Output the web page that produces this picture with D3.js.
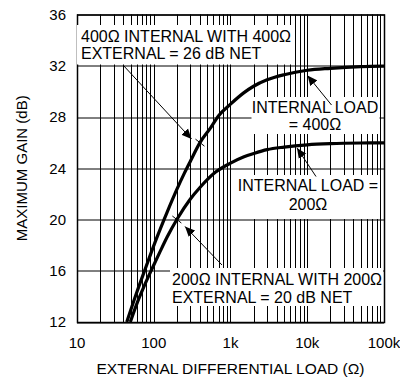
<!DOCTYPE html>
<html>
<head>
<meta charset="utf-8">
<script src="https://cdn.jsdelivr.net/npm/d3@7"></script>
<style>
  body { margin: 0; background: #fff; }
  text { font-family: "Liberation Sans", Arial, Helvetica, sans-serif; fill: #000; }
</style>
</head>
<body>
<div id="chart"></div>
<script>

// data (load in ohms, gain in dB)
var load400 = [44.5, 60, 77, 110, 150, 200, 250, 300, 400, 550, 700, 1000, 1500, 2000, 3000, 5000, 10000, 20000, 50000, 100000];
var gain400 = [12, 14.3, 16.1, 18.6, 20.6, 22.35, 23.6, 24.55, 26, 27.15, 28.1, 29, 29.9, 30.4, 30.9, 31.3, 31.65, 31.8, 31.93, 31.97];

var load200 = [49.5, 60, 75, 94, 120, 150, 200, 300, 400, 640, 1000, 1500, 2000, 3000, 5000, 10000, 20000, 50000, 100000];
var gain200 = [12, 13.4, 14.8, 16.1, 17.45, 18.65, 20, 21.6, 22.5, 23.7, 24.4, 24.9, 25.15, 25.45, 25.65, 25.83, 25.92, 25.97, 25.98];

var yTicks = [12, 16, 20, 24, 28, 32, 36];
var xTicks = [10, 100, 1000, 10000, 100000];
var xTickLabels = ["10", "100", "1k", "10k", "100k"];

// marked points on the curves (the "net" gains)
var markLoads = [400, 200];
var markGains = [26, 20];

var width = 400,
  height = 377,
  margin = {top: 14.5, right: 16, bottom: 55, left: 77},
  innerWidth = width - margin.left - margin.right,
  innerHeight = height - margin.top - margin.bottom;

var xScale = d3.scaleLog().domain([10, 100000]).range([0, innerWidth]);
var yScale = d3.scaleLinear().domain([12, 36]).range([innerHeight, 0]);

var svg = d3.select("#chart").append("svg")
  .attr("width", width)
  .attr("height", height);

svg.append("defs").append("marker")
  .attr("id", "arrow")
  .attr("viewBox", "0 0 10 10")
  .attr("refX", 10)
  .attr("refY", 5)
  .attr("markerWidth", 10)
  .attr("markerHeight", 10)
  .attr("markerUnits", "userSpaceOnUse")
  .attr("orient", "auto")
  .append("path")
  .attr("d", "M0,0.5 L10,5 L0,9.5 Z")
  .attr("fill", "#000");

var g = svg.append("g")
  .attr("transform", "translate(" + margin.left + "," + margin.top + ")");

// grid: every 1..9 x decade
var gridX = [];
for (var p = 1; p <= 4; p++) {
  for (var m = 1; m <= 9; m++) gridX.push(m * Math.pow(10, p));
}
gridX.push(100000);

g.append("g").selectAll("line")
  .data(gridX)
  .enter().append("line")
  .attr("x1", function(d) { return Math.round(xScale(d)) + 0.5; })
  .attr("x2", function(d) { return Math.round(xScale(d)) + 0.5; })
  .attr("y1", 0)
  .attr("y2", innerHeight)
  .attr("stroke", "#000")
  .attr("stroke-width", 1);

g.append("g").selectAll("line")
  .data(yTicks)
  .enter().append("line")
  .attr("x1", 0)
  .attr("x2", innerWidth)
  .attr("y1", function(d) { return Math.round(yScale(d)) + 0.5; })
  .attr("y2", function(d) { return Math.round(yScale(d)) + 0.5; })
  .attr("stroke", "#000")
  .attr("stroke-width", 1);

g.append("rect")
  .attr("x", 0.5)
  .attr("y", 0.5)
  .attr("width", innerWidth)
  .attr("height", innerHeight)
  .attr("fill", "none")
  .attr("stroke", "#000")
  .attr("stroke-width", 1.5);

// annotation boxes (white, hide the grid)
var labels = [
  {box: [0, 10.5, 217, 39.5], lines: ["400Ω INTERNAL WITH 400Ω", "EXTERNAL = 26 dB NET"],
    x: 4, y: [27.5, 44], anchor: "start"},
  {box: [174.5, 82.5, 128, 37], lines: ["INTERNAL LOAD", "= 400Ω"],
    x: 238, y: [98, 115.5], anchor: "middle"},
  {box: [158, 160.5, 145, 44], lines: ["INTERNAL LOAD =", "200Ω"],
    x: 231, y: [176, 195.5], anchor: "middle"},
  {box: [93, 253.5, 213, 38], lines: ["200Ω INTERNAL WITH 200Ω", "EXTERNAL = 20 dB NET"],
    x: 95, y: [270.5, 288.5], anchor: "start"}
];

g.append("g").selectAll("rect")
  .data(labels)
  .enter().append("rect")
  .attr("x", function(d) { return d.box[0]; })
  .attr("y", function(d) { return d.box[1]; })
  .attr("width", function(d) { return d.box[2]; })
  .attr("height", function(d) { return d.box[3]; })
  .attr("fill", "#fff");

// curves
var line = d3.line()
  .x(function(d) { return xScale(d[0]); })
  .y(function(d) { return yScale(d[1]); })
  .curve(d3.curveMonotoneX);

var series = [d3.zip(load400, gain400), d3.zip(load200, gain200)];

g.append("g").selectAll("path")
  .data(series)
  .enter().append("path")
  .attr("d", line)
  .attr("fill", "none")
  .attr("stroke", "#000")
  .attr("stroke-width", 3.2)
  .attr("stroke-linejoin", "round");

// short tick marks across the curves
g.append("g").selectAll("line")
  .data(d3.zip(markLoads, markGains))
  .enter().append("line")
  .attr("x1", function(d) { return xScale(d[0]) - 4.5; })
  .attr("y1", function(d) { return yScale(d[1]) - 3.5; })
  .attr("x2", function(d) { return xScale(d[0]) + 4.5; })
  .attr("y2", function(d) { return yScale(d[1]) + 3.5; })
  .attr("stroke", "#000")
  .attr("stroke-width", 1);

// arrows (from label to curve)
var arrows = [
  [46, 50.5, 114.5, 124.5],
  [145, 250.5, 108, 212],
  [254.5, 90.5, 230.5, 61],
  [239, 162, 220, 133.5]
];

g.append("g").selectAll("line")
  .data(arrows)
  .enter().append("line")
  .attr("x1", function(d) { return d[0]; })
  .attr("y1", function(d) { return d[1]; })
  .attr("x2", function(d) { return d[2]; })
  .attr("y2", function(d) { return d[3]; })
  .attr("stroke", "#000")
  .attr("stroke-width", 1)
  .attr("marker-end", "url(#arrow)");

// label text
labels.forEach(function(l) {
  l.lines.forEach(function(t, i) {
    g.append("text")
      .attr("x", l.x)
      .attr("y", l.y[i])
      .attr("text-anchor", l.anchor)
      .attr("font-size", "16px")
      .text(t);
  });
});

// axes labels
g.append("g").selectAll("text")
  .data(yTicks)
  .enter().append("text")
  .attr("x", -11)
  .attr("y", function(d) { return yScale(d); })
  .attr("dy", "0.36em")
  .attr("text-anchor", "end")
  .attr("font-size", "15px")
  .text(function(d) { return d; });

g.append("g").selectAll("text")
  .data(xTicks)
  .enter().append("text")
  .attr("x", function(d) { return xScale(d); })
  .attr("y", innerHeight + 25.5)
  .attr("text-anchor", "middle")
  .attr("font-size", "15px")
  .text(function(d, i) { return xTickLabels[i]; });

g.append("text")
  .attr("x", innerWidth / 2)
  .attr("y", innerHeight + 52)
  .attr("text-anchor", "middle")
  .attr("font-size", "15.5px")
  .text("EXTERNAL DIFFERENTIAL LOAD (Ω)");

g.append("text")
  .attr("transform", "translate(" + (-50) + "," + (innerHeight / 2) + ") rotate(-90)")
  .attr("text-anchor", "middle")
  .attr("font-size", "15px")
  .text("MAXIMUM GAIN (dB)");

</script>
</body>
</html>
